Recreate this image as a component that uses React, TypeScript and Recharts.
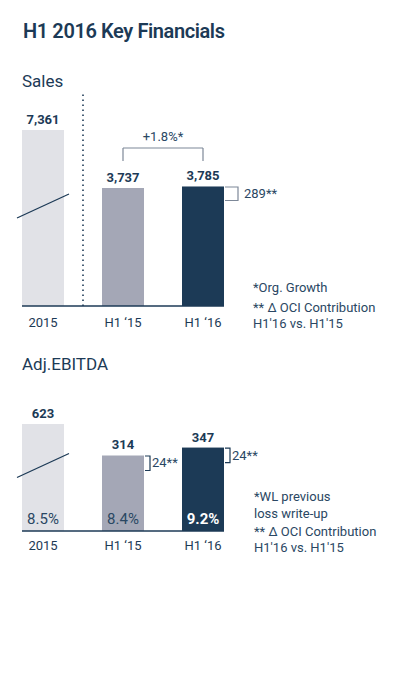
import React from 'react';
import { BarChart, Bar, XAxis, YAxis, Cell, LabelList, ReferenceLine } from 'recharts';

// ---- data ----
const categories = ['2015', 'H1 \u201815', 'H1 \u201816'];
const barColors = ['#e1e2e7', '#a4a7b6', '#1c3a56'];

const salesValues = [7361, 3737, 3785];
// 2015 drawn on a broken axis (shortened bar)
const salesDisplay = [5573, 3737, 3785];
const salesOciDelta: (string | null)[] = [null, null, '289**'];
const salesGrowthLabel = '+1.8%*';

const ebitdaValues = [623, 314, 347];
const ebitdaDisplay = [445, 314, 347];
const ebitdaMargins = ['8.5%', '8.4%', '9.2%'];
const ebitdaOciDelta: (string | null)[] = [null, '24**', '24**'];
const brokenBars = [true, false, false];

const NAVY = '#1c3a56';
const TEXT = '#2a4763';
const GREY_LINE = '#7d8898';
const FONT = 'Roboto, "Noto Sans", sans-serif';

const salesData = categories.map((name, i) => ({
  pos: i,
  name,
  value: salesValues[i],
  display: salesDisplay[i],
  delta: salesOciDelta[i],
  broken: brokenBars[i],
}));

const ebitdaData = categories.map((name, i) => ({
  pos: i,
  name,
  value: ebitdaValues[i],
  display: ebitdaDisplay[i],
  margin: ebitdaMargins[i],
  delta: ebitdaOciDelta[i],
  broken: brokenBars[i],
}));

const fmt = (v: any) => Number(v).toLocaleString('en-US');

const BrokenBarShape = (props: any) => {
  const { x, y, width, height, fill, payload } = props;
  return (
    <g>
      <rect x={x} y={y} width={width} height={height} fill={fill} />
      {payload && payload.broken ? (
        <line
          x1={x - 5}
          y1={y + height * 0.5}
          x2={x + width + 5}
          y2={y + height * 0.5 - 24}
          stroke={NAVY}
          strokeWidth={1.3}
        />
      ) : null}
    </g>
  );
};

const SalesDeltaLabel = (props: any) => {
  const { x, y, width, value } = props;
  if (value == null) return null;
  const x0 = x + width + 1;
  return (
    <g>
      <path d={`M${x0},${y + 0.5} H${x0 + 13} V${y + 14} H${x0}`} fill="none" stroke={GREY_LINE} strokeWidth={1.2} />
      <text x={x0 + 19} y={y + 7} dominantBaseline="central" fontSize={13} fill={TEXT} fontFamily={FONT}>
        {value}
      </text>
    </g>
  );
};

const EbitdaDeltaLabel = (props: any) => {
  const { x, y, width, value } = props;
  if (value == null) return null;
  const x0 = x + width + 1;
  return (
    <g>
      <path d={`M${x0},${y + 0.5} H${x0 + 5} V${y + 15} H${x0}`} fill="none" stroke={NAVY} strokeWidth={1.2} />
      <text x={x0 + 7} y={y + 7.5} dominantBaseline="central" fontSize={13} fill={TEXT} fontFamily={FONT}>
        {value}
      </text>
    </g>
  );
};

const MarginLabel = (props: any) => {
  const { x, y, width, height, value, index } = props;
  const strong = index === 2;
  return (
    <text
      x={x + width / 2}
      y={y + height - 12}
      textAnchor="middle"
      dominantBaseline="central"
      fontSize={15}
      fontWeight={strong ? 700 : 400}
      fill={strong ? '#ffffff' : TEXT}
      fontFamily={FONT}
    >
      {value}
    </text>
  );
};

const tickStyle = { fill: NAVY, fontSize: 13, fontFamily: FONT };

const Note = ({ left, center, children }: any) => (
  <div
    style={{
      position: 'absolute',
      left,
      top: center - 6.5,
      fontSize: 13,
      lineHeight: '13px',
      color: TEXT,
      whiteSpace: 'nowrap',
    }}
  >
    {children}
  </div>
);

export default function App() {
  return (
    <div
      style={{
        position: 'absolute',
        left: 0,
        top: 0,
        width: 397,
        height: 700,
        background: '#ffffff',
        fontFamily: FONT,
      }}
    >
      <div style={{ position: 'absolute', left: 23, top: 21, fontSize: 20, lineHeight: '20px', fontWeight: 600, color: NAVY, letterSpacing: -0.4 }}>
        H1 2016 Key Financials
      </div>
      <div style={{ position: 'absolute', left: 22, top: 73, fontSize: 17, lineHeight: '17px', color: NAVY }}>Sales</div>
      <div style={{ position: 'absolute', left: 22, top: 356, fontSize: 17, lineHeight: '17px', color: NAVY }}>Adj.EBITDA</div>

      <div style={{ position: 'absolute', left: 0, top: 0 }}>
        <BarChart width={397} height={340} data={salesData} margin={{ top: 92, right: 173, bottom: 0, left: 22 }}>
          <XAxis
            type="number"
            dataKey="pos"
            domain={[-0.2625, 2.2625]}
            ticks={[0, 1, 2]}
            tickFormatter={(v: any) => categories[v]}
            height={34}
            tickLine={false}
            tickMargin={6}
            axisLine={{ stroke: NAVY, strokeWidth: 1.3 }}
            tick={tickStyle}
            allowDecimals
          />
          <YAxis hide domain={[0, 6777]} />
          <ReferenceLine x={0.5} stroke={NAVY} strokeWidth={1.6} strokeDasharray="1.6 3.4" />
          <ReferenceLine segment={[{ x: 1, y: 4591 }, { x: 1, y: 5003 }]} stroke={GREY_LINE} strokeWidth={1.2} ifOverflow="visible" />
          <ReferenceLine segment={[{ x: 2, y: 4591 }, { x: 2, y: 5003 }]} stroke={GREY_LINE} strokeWidth={1.2} ifOverflow="visible" />
          <ReferenceLine
            segment={[{ x: 1, y: 5003 }, { x: 2, y: 5003 }]}
            stroke={GREY_LINE}
            strokeWidth={1.2}
            ifOverflow="visible"
            label={{ value: salesGrowthLabel, position: 'top', offset: 7, fill: TEXT, fontSize: 13, fontFamily: FONT }}
          />
          <Bar dataKey="display" barSize={42} isAnimationActive={false} shape={BrokenBarShape}>
            {salesData.map((d, i) => (
              <Cell key={d.name} fill={barColors[i]} />
            ))}
            <LabelList dataKey="value" position="top" offset={6} formatter={fmt} fill={NAVY} fontSize={13} fontWeight={700} fontFamily={FONT} />
            <LabelList dataKey="delta" content={SalesDeltaLabel} />
          </Bar>
        </BarChart>
      </div>

      <div style={{ position: 'absolute', left: 0, top: 340 }}>
        <BarChart width={397} height={240} data={ebitdaData} margin={{ top: 84, right: 173, bottom: 0, left: 22 }}>
          <XAxis
            type="number"
            dataKey="pos"
            domain={[-0.2625, 2.2625]}
            ticks={[0, 1, 2]}
            tickFormatter={(v: any) => categories[v]}
            height={49}
            tickLine={false}
            tickMargin={4}
            axisLine={{ stroke: NAVY, strokeWidth: 1.3 }}
            tick={tickStyle}
            allowDecimals
          />
          <YAxis hide domain={[0, 445]} />
          <Bar dataKey="display" barSize={42} isAnimationActive={false} shape={BrokenBarShape}>
            {ebitdaData.map((d, i) => (
              <Cell key={d.name} fill={barColors[i]} />
            ))}
            <LabelList dataKey="value" position="top" offset={6} formatter={fmt} fill={NAVY} fontSize={13} fontWeight={700} fontFamily={FONT} />
            <LabelList dataKey="margin" content={MarginLabel} />
            <LabelList dataKey="delta" content={EbitdaDeltaLabel} />
          </Bar>
        </BarChart>
      </div>

      <Note left={253} center={287}>*Org. Growth</Note>
      <Note left={253} center={307}>** Δ OCI Contribution</Note>
      <Note left={253} center={323}>H1'16 vs. H1'15</Note>

      <Note left={254} center={496}>*WL previous</Note>
      <Note left={254} center={513}>loss write-up</Note>
      <Note left={254} center={531}>** Δ OCI Contribution</Note>
      <Note left={254} center={547}>H1'16 vs. H1'15</Note>
    </div>
  );
}
